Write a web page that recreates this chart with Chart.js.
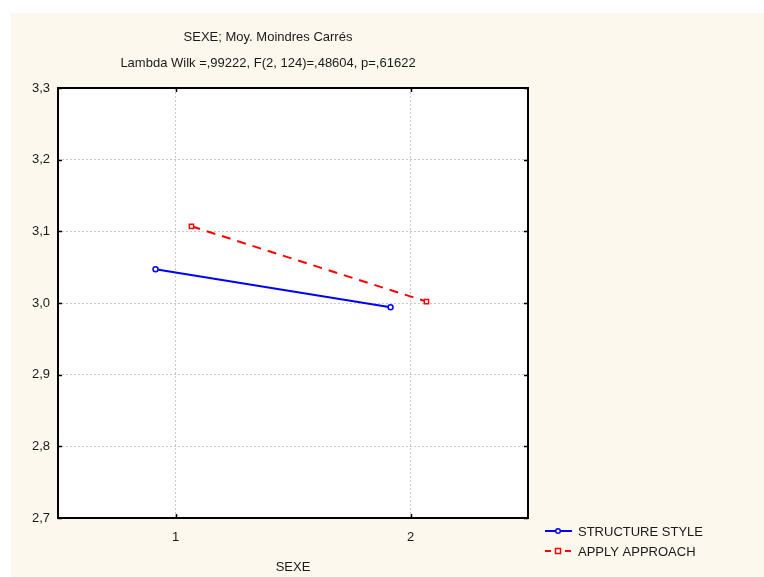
<!DOCTYPE html>
<html>
<head>
<meta charset="utf-8">
<script src="https://cdn.jsdelivr.net/npm/chart.js@4.4.1/dist/chart.umd.min.js"></script>
<style>
    html, body { margin: 0; padding: 0; background: #ffffff; }
    #wrap { width: 764px; height: 577px; position: relative; }
</style>
</head>
<body>
<div id="wrap"><canvas id="lsmChart" width="764" height="577"></canvas></div>
<script>
// Data
const sexeGroups = [1, 2];
const structureStyle = [3.047, 2.994];
const applyApproach = [3.107, 3.002];
const yTicks = [2.7, 2.8, 2.9, 3.0, 3.1, 3.2, 3.3];

const titleLine1 = 'SEXE; Moy. Moindres Carrés';
const titleLine2 = 'Lambda Wilk =,99222, F(2, 124)=,48604, p=,61622';
const xTitle = 'SEXE';

// small horizontal shift so the two series don't sit on top of each other
const dodgeStructure = -0.085;
const dodgeApply = 0.068;

const FONT = '"Liberation Sans", Arial, sans-serif';
const BLUE = '#0000ff';
const RED = '#ff0000';
const GRID = '#c8c8c8';

const commaFmt = v => v.toFixed(1).replace('.', ',');

// Cream panel, frame, inward ticks, titles and legend
const statPanel = {
    id: 'statPanel',
    beforeDraw(chart) {
        const c = chart.ctx;
        c.save();
        c.fillStyle = '#fdf8ee';
        c.fillRect(11, 13, chart.width - 11, chart.height - 13);
        const a = chart.chartArea;
        c.fillStyle = '#ffffff';
        c.fillRect(a.left, a.top, a.right - a.left, a.bottom - a.top);
        c.restore();
    },
    afterDatasetsDraw(chart) {
        const c = chart.ctx;
        const a = chart.chartArea;
        const xs = chart.scales.x, ys = chart.scales.y;
        c.save();
        c.strokeStyle = '#000000';
        c.lineWidth = 2;
        c.strokeRect(a.left, a.top, a.right - a.left, a.bottom - a.top);

        c.lineWidth = 1.5;
        c.beginPath();
        ys.ticks.forEach(t => {
            const y = Math.round(ys.getPixelForValue(t.value)) + 0.5;
            c.moveTo(a.left, y); c.lineTo(a.left + 4, y);
            c.moveTo(a.right, y); c.lineTo(a.right - 4, y);
        });
        xs.ticks.forEach(t => {
            const x = Math.round(xs.getPixelForValue(t.value)) + 0.5;
            c.moveTo(x, a.top); c.lineTo(x, a.top + 4);
            c.moveTo(x, a.bottom); c.lineTo(x, a.bottom - 4);
        });
        c.stroke();

        // titles
        c.fillStyle = '#1a1a1a';
        c.font = '13px ' + FONT;
        c.textAlign = 'center';
        c.textBaseline = 'middle';
        const cx = 268;
        c.fillText(titleLine1, cx, 37);
        c.fillText(titleLine2, cx, 63);
        c.fillText(xTitle, (a.left + a.right) / 2, 567);

        // legend
        const legend = [
            { label: chart.data.datasets[0].label, color: BLUE, dash: [], y: 531, shape: 'circle' },
            { label: chart.data.datasets[1].label, color: RED, dash: [6, 4], y: 551, shape: 'rect' }
        ];
        legend.forEach(it => {
            c.strokeStyle = it.color;
            c.lineWidth = 2;
            c.setLineDash(it.dash);
            c.beginPath();
            c.moveTo(545, it.y); c.lineTo(572, it.y);
            c.stroke();
            c.setLineDash([]);
            c.fillStyle = '#ffffff';
            c.lineWidth = 1.5;
            c.beginPath();
            if (it.shape === 'circle') {
                c.arc(558, it.y, 2.3, 0, Math.PI * 2);
            } else {
                c.rect(555.5, it.y - 2.5, 5, 5);
            }
            c.fill();
            c.stroke();
            c.fillStyle = '#1a1a1a';
            c.textAlign = 'left';
            c.fillText(it.label, 578, it.y + 1);
        });
        c.restore();
    }
};

const ctx = document.getElementById('lsmChart').getContext('2d');
new Chart(ctx, {
    type: 'line',
    data: {
        datasets: [
            {
                label: 'STRUCTURE STYLE',
                data: sexeGroups.map((g, i) => ({ x: g + dodgeStructure, y: structureStyle[i] })),
                borderColor: BLUE,
                backgroundColor: '#ffffff',
                borderWidth: 2,
                pointStyle: 'circle',
                pointRadius: 2.5,
                pointBorderWidth: 1.5,
                pointBorderColor: BLUE,
                pointBackgroundColor: '#ffffff',
                tension: 0
            },
            {
                label: 'APPLY APPROACH',
                data: sexeGroups.map((g, i) => ({ x: g + dodgeApply, y: applyApproach[i] })),
                borderColor: RED,
                backgroundColor: '#ffffff',
                borderWidth: 2,
                borderDash: [9, 7],
                pointStyle: 'rect',
                pointRadius: 3,
                pointBorderWidth: 1.5,
                pointBorderColor: RED,
                pointBackgroundColor: '#ffffff',
                tension: 0
            }
        ]
    },
    options: {
        responsive: false,
        animation: false,
        layout: { padding: { top: 88, right: 236, left: 0, bottom: 0 } },
        plugins: {
            legend: { display: false },
            title: { display: false },
            tooltip: { enabled: false }
        },
        scales: {
            x: {
                type: 'linear',
                min: 0.5,
                max: 2.5,
                afterBuildTicks: s => { s.ticks = sexeGroups.map(v => ({ value: v })); },
                afterFit: s => { s.height = 59; },
                border: { display: false, dash: [2, 2] },
                grid: { color: GRID, lineWidth: 1, drawTicks: false },
                ticks: {
                    padding: 12,
                    color: '#1a1a1a',
                    font: { family: FONT, size: 13 },
                    callback: v => String(v)
                }
            },
            y: {
                min: 2.7,
                max: 3.3,
                afterBuildTicks: s => { s.ticks = yTicks.map(v => ({ value: v })); },
                afterFit: s => { s.width = 58; },
                border: { display: false, dash: [2, 2] },
                grid: { color: GRID, lineWidth: 1, drawTicks: false },
                ticks: {
                    padding: 8,
                    color: '#1a1a1a',
                    font: { family: FONT, size: 13 },
                    callback: v => commaFmt(v)
                }
            }
        }
    },
    plugins: [statPanel]
});
</script>
</body>
</html>
